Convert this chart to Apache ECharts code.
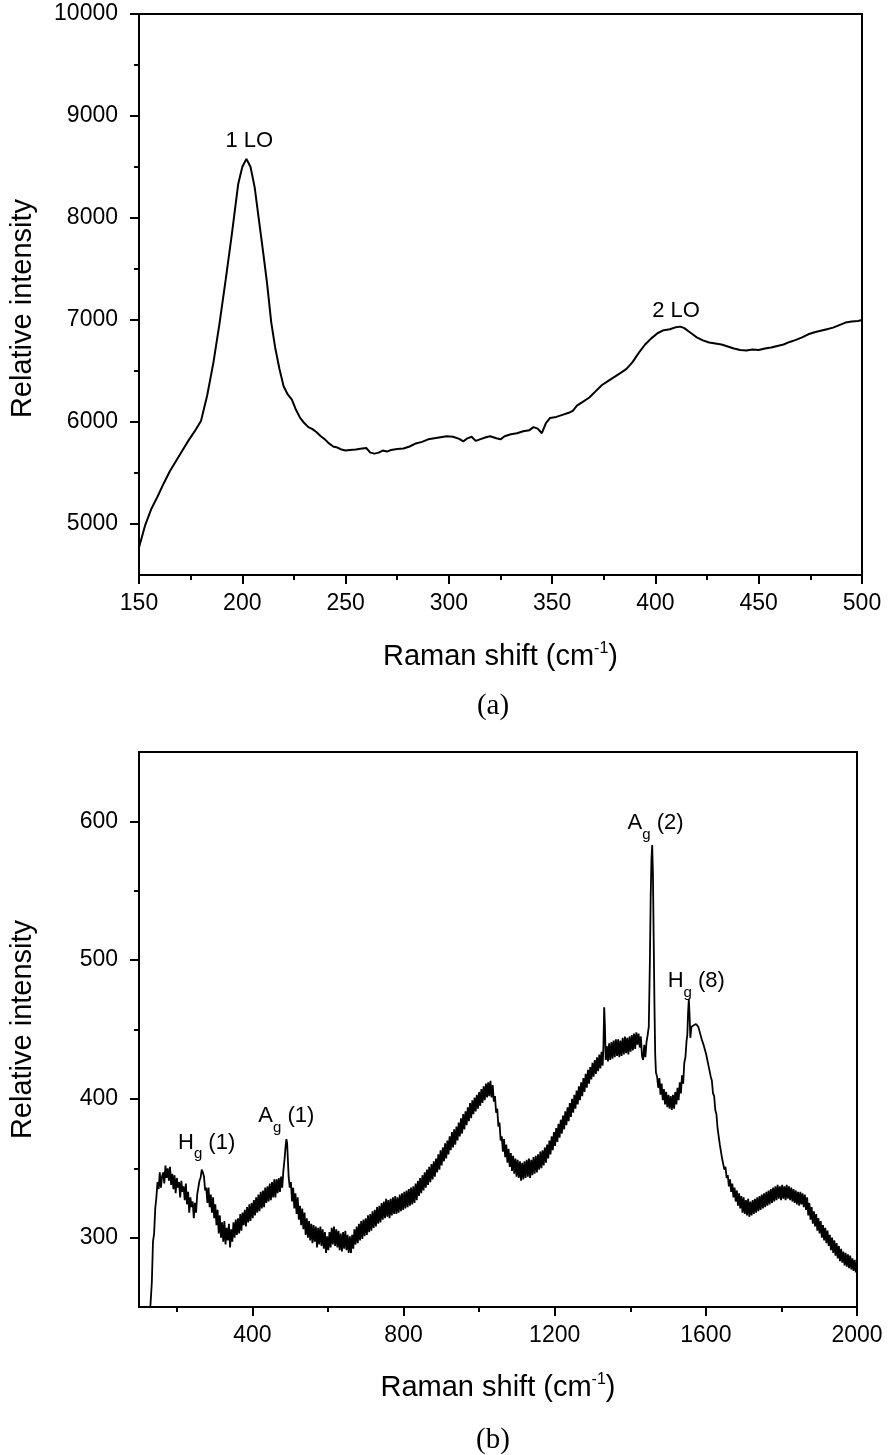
<!DOCTYPE html>
<html><head><meta charset="utf-8">
<script src="https://cdn.jsdelivr.net/npm/echarts@6/dist/echarts.min.js"></script>
<style>html,body{margin:0;padding:0;background:#fff}#c{width:893px;height:1455px}</style>
</head><body><div id="c"></div>
<script>
// ---- Panel (a) data ----
const ramanShiftA = [150,153,156,159,162,165,168,171,174,177,180,183,186,189,192,195,198,200,202,204,206,208,210,212,214,216,218,220,222,224,226,228,230,232,234,236,238,240,242,244,246,248,250,252,255,258,260,262,264,266,268,270,272,275,278,281,284,287,290,293,296,299,302,305,307,309,311,313,315,318,320,323,325,327,330,333,336,339,341,343,345,347,349,352,355,358,360,362,365,368,371,374,377,380,383,386,389,392,395,398,401,404,407,410,412,414,416,418,420,423,426,429,432,435,438,441,444,447,450,453,456,459,462,465,468,471,474,477,480,483,486,489,492,495,498,500];
const intensityA = [4770,4990,5150,5270,5400,5520,5620,5720,5820,5910,6010,6260,6580,6970,7400,7850,8330,8500,8580,8500,8300,7990,7680,7360,6980,6720,6520,6350,6270,6220,6120,6040,5990,5950,5930,5900,5860,5830,5790,5760,5750,5730,5720,5725,5730,5740,5745,5700,5690,5700,5720,5710,5725,5735,5740,5760,5790,5805,5830,5840,5850,5860,5855,5835,5810,5840,5855,5815,5830,5850,5860,5840,5830,5860,5880,5890,5910,5920,5950,5935,5890,5990,6040,6050,6070,6090,6110,6160,6200,6240,6300,6360,6400,6440,6480,6520,6590,6680,6760,6820,6870,6900,6910,6930,6935,6920,6890,6860,6830,6800,6780,6770,6760,6740,6720,6705,6700,6710,6705,6720,6730,6745,6760,6785,6805,6830,6860,6880,6895,6910,6925,6950,6975,6985,6990,7000];
const yTicksA = [5000,6000,7000,8000,9000,10000];
const yMinorA = [5500,6500,7500,8500,9500];

// ---- Panel (b) data ----
const ramanShiftB = [
130,134,137,140,143,146,149,152,155,158,
161,164,167,170,173,176,179,182,185,188,
191,194,197,200,203,206,209,212,215,218,
221,224,227,230,233,236,239,242,245,248,
251,254,257,260,263,266,269,272,275,278,
281,284,287,290,293,296,299,302,305,308,
311,314,317,320,323,326,329,332,335,338,
341,344,347,350,353,356,359,362,365,368,
371,374,377,380,383,386,389,392,395,398,
401,404,407,410,413,416,419,422,425,428,
431,434,437,440,443,446,449,452,455,458,
461,464,467,470,473,476,479,482,485,488,
490,492,494,496,499,502,505,508,511,514,
517,520,523,526,529,532,535,538,541,544,
547,550,553,556,559,562,565,568,571,574,
577,580,583,586,589,592,595,598,601,604,
607,610,613,616,619,622,625,628,631,634,
637,640,643,646,649,652,655,658,661,664,
667,670,673,676,679,682,685,688,691,694,
697,700,703,706,709,712,715,718,721,724,
727,730,733,736,739,742,745,748,751,754,
757,760,763,766,769,772,775,778,781,784,
787,790,793,796,799,802,805,808,811,814,
817,820,823,826,829,832,835,838,841,844,
847,850,853,856,859,862,865,868,871,874,
877,880,883,886,889,892,895,898,901,904,
907,910,913,916,919,922,925,928,931,934,
937,940,943,946,949,952,955,958,961,964,
967,970,973,976,979,982,985,988,991,994,
997,1000,1003,1006,1009,1012,1015,1018,1021,1024,
1027,1030,1033,1036,1039,1042,1045,1048,1051,1054,
1057,1060,1063,1066,1069,1072,1075,1078,1081,1084,
1087,1090,1093,1096,1099,1102,1105,1108,1111,1114,
1117,1120,1123,1126,1129,1132,1135,1138,1141,1144,
1147,1150,1153,1156,1159,1162,1165,1168,1171,1174,
1177,1180,1183,1186,1189,1192,1195,1198,1201,1204,
1207,1210,1213,1216,1219,1222,1225,1228,1231,1234,
1237,1240,1243,1246,1249,1252,1255,1258,1261,1264,
1267,1270,1273,1276,1279,1282,1285,1288,1291,1294,
1297,1300,1303,1306,1309,1312,1315,1318,1321,1324,
1327,1329,1331,1333,1335,1338,1341,1344,1347,1350,
1353,1356,1359,1362,1365,1368,1371,1374,1377,1380,
1383,1386,1389,1392,1395,1398,1401,1404,1407,1410,
1413,1416,1419,1422,1425,1428,1431,1434,1437,1440,
1443,1446,1449,1452,1454,1456,1458,1460,1462,1464,
1466,1468,1471,1474,1477,1480,1483,1486,1489,1492,
1495,1498,1501,1504,1507,1510,1513,1516,1519,1522,
1525,1528,1531,1534,1537,1540,1543,1546,1549,1551,
1553,1555,1557,1559,1562,1565,1568,1571,1574,1577,
1580,1583,1586,1589,1592,1595,1598,1601,1604,1607,
1610,1613,1616,1619,1622,1625,1628,1631,1634,1637,
1640,1643,1646,1649,1652,1655,1658,1661,1664,1667,
1670,1673,1676,1679,1682,1685,1688,1691,1694,1697,
1700,1703,1706,1709,1712,1715,1718,1721,1724,1727,
1730,1733,1736,1739,1742,1745,1748,1751,1754,1757,
1760,1763,1766,1769,1772,1775,1778,1781,1784,1787,
1790,1793,1796,1799,1802,1805,1808,1811,1814,1817,
1820,1823,1826,1829,1832,1835,1838,1841,1844,1847,
1850,1853,1856,1859,1862,1865,1868,1871,1874,1877,
1880,1883,1886,1889,1892,1895,1898,1901,1904,1907,
1910,1913,1916,1919,1922,1925,1928,1931,1934,1937,
1940,1943,1946,1949,1952,1955,1958,1961,1964,1967,
1970,1973,1976,1979,1982,1985,1988,1991,1994,1997,
2000];
const intensityB = [
250,268,297,303,321,329,340,335,347,336,
344,347,339,352,343,350,341,351,338,346,
335,345,332,343,336,340,329,341,333,337,
327,339,324,333,318,329,322,326,314,325,
318,331,330,341,343,349,347,344,334,336,
325,336,322,331,318,329,314,324,309,320,
303,316,300,311,297,312,295,307,298,310,
293,306,297,311,300,313,302,314,303,317,
305,318,309,320,308,322,311,324,312,325,
314,327,316,329,318,331,319,333,321,334,
322,336,325,337,326,339,327,340,329,342,
329,342,332,343,333,344,336,348,356,366,
371,368,356,344,336,340,326,336,321,332,
317,329,313,323,309,321,306,318,302,314,
300,312,298,310,296,309,297,308,293,307,
295,308,294,306,292,304,289,301,291,304,
293,307,295,308,294,306,293,305,291,303,
290,304,292,305,291,302,289,301,289,302,
292,306,295,308,296,310,298,312,299,313,
301,314,302,316,304,317,305,319,307,320,
308,322,310,323,311,325,313,326,314,328,
315,327,314,328,316,329,317,330,317,329,
318,331,319,332,320,333,321,334,322,335,
323,336,324,337,325,339,327,341,330,343,
332,345,334,347,336,349,338,351,340,353,
342,355,344,357,347,360,349,363,352,365,
355,368,357,370,360,373,363,376,365,378,
367,380,370,383,373,386,375,389,378,391,
381,394,384,397,386,399,389,401,391,403,
393,405,395,407,397,409,399,411,401,412,
402,413,401,410,398,402,390,393,380,383,
370,373,362,371,358,367,354,364,351,361,
348,359,346,357,344,356,343,355,341,354,
342,355,343,356,344,357,343,356,345,358,
346,359,347,360,349,362,350,363,352,365,
354,367,357,370,360,373,363,376,366,379,
369,382,372,385,375,388,378,391,381,394,
384,397,387,400,390,403,393,406,396,409,
399,412,402,415,405,418,408,421,411,423,
414,426,416,428,418,430,420,432,422,434,
424,438,466,452,428,438,427,440,428,441,
429,442,430,443,431,443,430,442,431,444,
432,445,433,444,432,445,434,446,435,447,
436,448,439,447,437,445,431,428,439,430,
441,446,452,500,545,572,583,562,515,468,
432,419,416,408,415,403,411,399,407,396,
405,394,403,393,402,392,403,393,405,396,
408,399,412,404,417,411,426,430,442,446,
462,472,460,444,452,453,453,454,454,453,
452,449,448,443,443,438,438,432,431,424,
423,416,413,404,402,392,389,379,378,367,
367,357,358,349,351,343,345,337,342,333,
339,329,336,326,334,323,332,321,330,318,
329,317,327,316,328,315,326,316,327,317,
328,318,329,319,330,320,331,321,332,322,
333,323,334,324,335,325,336,326,337,327,
338,328,337,327,338,328,337,327,338,328,
337,327,336,326,335,325,334,324,333,323,
333,324,332,322,331,320,329,316,325,313,
322,310,319,308,317,305,314,303,312,300,
309,298,307,296,305,294,302,291,300,289,
298,287,296,285,294,283,292,282,290,280,
289,279,288,278,287,277,285,276,284,275,
280];
const xTicksB = [400,800,1200,1600,2000];
const xMinorB = [200,600,1000,1400,1800];
const yTicksB = [300,400,500,600];
const yMinorB = [350,450,550];

const FONT = "'Liberation Sans', Arial, sans-serif";
const INK = '#000';
const lineSt = {color: INK, width: 2};
function pairs(xs, ys) { return xs.map((x, i) => [x, ys[i]]); }
const plain = v => String(v);

function majorAxis(extra) {
  return Object.assign({
    type: 'value',
    axisLine: {show: true, onZero: false, lineStyle: lineSt},
    axisTick: {show: true, inside: false, length: 9, lineStyle: lineSt},
    splitLine: {show: false},
    minorSplitLine: {show: false}
  }, extra);
}
function minorAxis(extra) {
  return Object.assign({
    type: 'value',
    axisLine: {show: false},
    axisLabel: {show: false},
    splitLine: {show: false}
  }, extra);
}
function tickLabel(margin, values) {
  const o = {fontSize: 23, fontFamily: FONT, color: INK, margin: margin, formatter: plain};
  if (values) o.customValues = values;
  return o;
}
const xName = {
  name: 'Raman shift (cm{sup|-1})', nameLocation: 'middle',
  nameTextStyle: {fontSize: 29, fontFamily: FONT, color: INK, lineHeight: 32,
    rich: {sup: {fontSize: 16, lineHeight: 26, verticalAlign: 'top', fontFamily: FONT, color: INK}}}
};
const yName = {name: 'Relative intensity', nameLocation: 'middle', nameGap: 102};

const labRich = {
  m: {fontSize: 22, fontFamily: FONT, color: INK, lineHeight: 24, verticalAlign: 'top'},
  s: {fontSize: 15, fontFamily: FONT, color: INK, lineHeight: 30, verticalAlign: 'bottom'}
};

const chart = echarts.init(document.getElementById('c'), null, {renderer: 'canvas'});
chart.setOption({
  animation: false,
  backgroundColor: '#fff',
  grid: [
    {left: 135, top: 14, width: 727, height: 561, show: true, borderColor: INK, borderWidth: 2, backgroundColor: 'transparent'},
    {left: 136, top: 752, width: 721, height: 555, show: true, borderColor: INK, borderWidth: 2, backgroundColor: 'transparent'}
  ],
  xAxis: [
    majorAxis(Object.assign({gridIndex: 0, position: 'bottom', min: 150, max: 500, interval: 50,
      minorTick: {show: true, splitNumber: 2, length: 5, lineStyle: lineSt},
      axisLabel: tickLabel(17), nameGap: 66}, xName)),
    majorAxis(Object.assign({gridIndex: 1, position: 'bottom', min: 100, max: 2000,
      axisTick: {show: true, length: 9, lineStyle: lineSt, customValues: xTicksB},
      axisLabel: tickLabel(17, xTicksB), nameGap: 65}, xName)),
    minorAxis({gridIndex: 1, position: 'bottom', min: 100, max: 2000,
      axisTick: {show: true, length: 5, lineStyle: lineSt, customValues: xMinorB}})
  ],
  yAxis: [
    majorAxis(Object.assign({gridIndex: 0, position: 'left', min: 4500, max: 10000,
      axisTick: {show: true, length: 9, lineStyle: lineSt, customValues: yTicksA},
      axisLabel: tickLabel(21, yTicksA),
      nameTextStyle: {fontSize: 29, fontFamily: FONT, color: INK, padding: [0, 28, 0, 0]}}, yName)),
    minorAxis({gridIndex: 0, position: 'left', min: 4500, max: 10000,
      axisTick: {show: true, length: 5, lineStyle: lineSt, customValues: yMinorA}}),
    majorAxis(Object.assign({gridIndex: 1, position: 'left', min: 250, max: 650,
      axisTick: {show: true, length: 9, lineStyle: lineSt, customValues: yTicksB},
      axisLabel: tickLabel(21, yTicksB),
      nameTextStyle: {fontSize: 29, fontFamily: FONT, color: INK}}, yName)),
    minorAxis({gridIndex: 1, position: 'left', min: 250, max: 650,
      axisTick: {show: true, length: 5, lineStyle: lineSt, customValues: yMinorB}})
  ],
  series: [
    {
      type: 'line', xAxisIndex: 0, yAxisIndex: 0, data: pairs(ramanShiftA, intensityA),
      showSymbol: false, symbol: 'none', lineStyle: {color: INK, width: 2}, itemStyle: {color: INK},
      emphasis: {disabled: true}, silent: true,
      markPoint: {
        symbol: 'circle', symbolSize: 0, silent: true, animation: false,
        label: {show: true, position: [0, 0], align: 'center', verticalAlign: 'middle',
          fontSize: 22, fontFamily: FONT, color: INK},
        data: [
          {coord: [203.4, 8757], label: {formatter: '1 LO'}},
          {coord: [410, 7089], label: {formatter: '2 LO'}}
        ]
      }
    },
    {
      type: 'line', xAxisIndex: 1, yAxisIndex: 2, data: pairs(ramanShiftB, intensityB),
      showSymbol: false, symbol: 'none', lineStyle: {color: INK, width: 1.8}, itemStyle: {color: INK},
      emphasis: {disabled: true}, silent: true,
      markPoint: {
        symbol: 'circle', symbolSize: 0, silent: true, animation: false,
        label: {show: true, position: [0, 0], align: 'center', verticalAlign: 'top', rich: labRich},
        data: [
          {coord: [279, 376.3], label: {formatter: '{m|H}{s|g}{m| (1)}'}},
          {coord: [489.8, 395.3], label: {formatter: '{m|A}{s|g}{m| (1)}'}},
          {coord: [1466.9, 606.5], label: {formatter: '{m|A}{s|g}{m| (2)}'}},
          {coord: [1574.8, 492.7], label: {formatter: '{m|H}{s|g}{m| (8)}'}}
        ]
      }
    }
  ],
  graphic: [
    {type: 'text', x: 493, y: 706, silent: true,
      style: {text: '(a)', fontSize: 29, fontFamily: "'Liberation Serif', 'Times New Roman', serif", fill: INK, align: 'center', verticalAlign: 'middle'}},
    {type: 'text', x: 493, y: 1440, silent: true,
      style: {text: '(b)', fontSize: 29, fontFamily: "'Liberation Serif', 'Times New Roman', serif", fill: INK, align: 'center', verticalAlign: 'middle'}}
  ]
});
</script></body></html>
